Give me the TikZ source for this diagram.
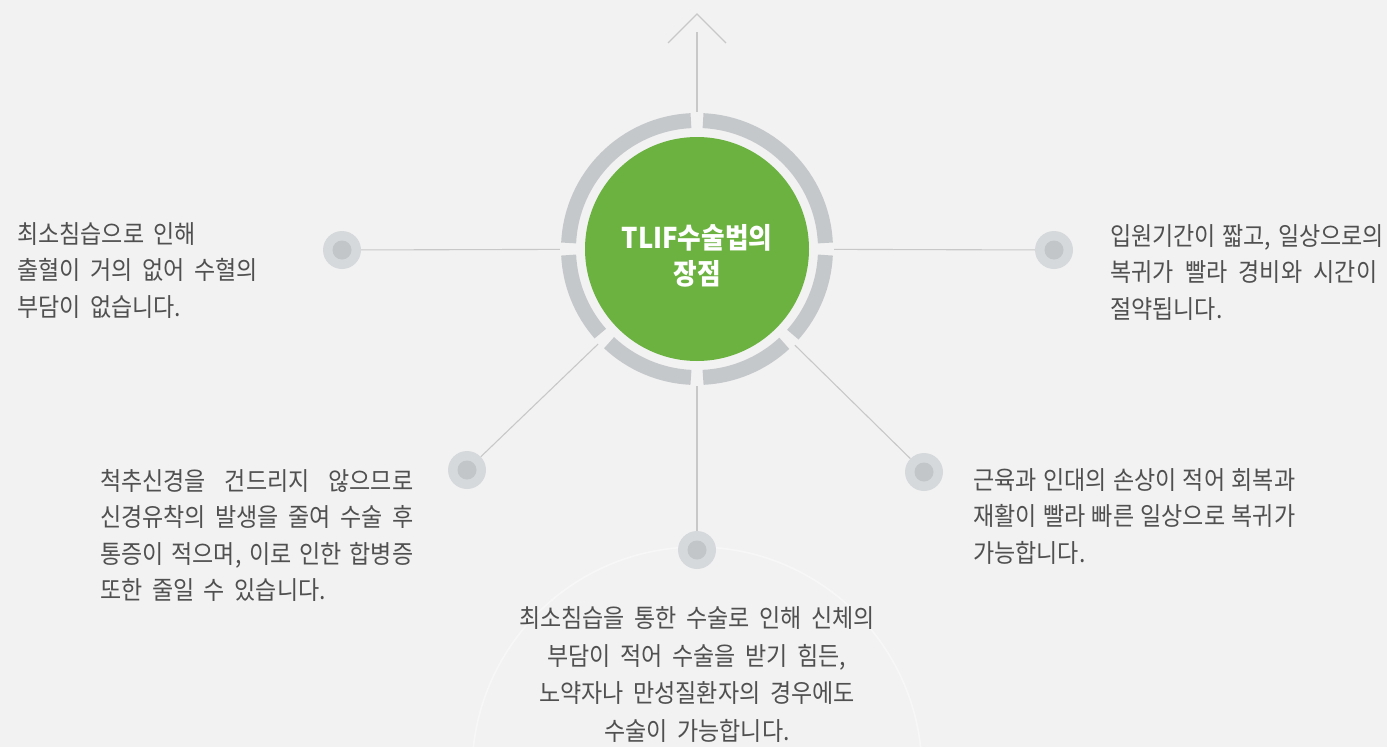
\documentclass[tikz,border=0pt]{standalone}
\usepackage{fontspec}
\newfontfamily\kr[FakeStretch=0.91, WordSpace=1.85]{Noto Sans CJK KR}
\newfontfamily\krt[FakeStretch=0.9]{Noto Sans CJK KR}
\definecolor{bgc}{HTML}{F2F2F2}
\definecolor{ringc}{HTML}{C5C8CB}
\definecolor{greenc}{HTML}{6CB240}
\definecolor{linec}{HTML}{C8C8C8}
\definecolor{dotout}{HTML}{D6D9DC}
\definecolor{dotin}{HTML}{C3C6C9}
\definecolor{txtc}{HTML}{505050}
\begin{document}
\begin{tikzpicture}[x=1pt,y=1pt,
  txt/.style={font=\kr\fontsize{25.3}{36.5}\selectfont, text=txtc, inner sep=0, align=left},
  ctxt/.style={font=\kr\fontsize{25.3}{37.5}\selectfont, text=txtc, inner sep=0, align=center},
  dotnode/.style={circle, fill=dotout, minimum size=38pt, inner sep=0},
  conn/.style={draw=linec, line width=1.1pt},
  seg/.style={draw=ringc, line width=15pt}]
\fill[bgc] (0,0) rectangle (1387,-747);
\useasboundingbox (0,0) rectangle (1387,-747);
% faint background circle
\draw[white, line width=1.5pt, opacity=0.45] (697,-772) circle (225);
% hub area and ring
\node[circle, minimum size=274pt, inner sep=0] (hub) at (697,-249) {};
\foreach \a/\b in {2.7/87.3, 92.7/177.3, 182.7/221.2, 226.8/267.3, 272.7/312.8, 318.2/357.3}
  \draw[seg] (697,-249) ++(\a:128.5) arc (\a:\b:128.5);
\node[circle, fill=greenc, minimum size=224pt, inner sep=0] (core) at (697,-249) {};
\node[text=white, font=\krt\bfseries\fontsize{28.5}{35.5}\selectfont, align=center, inner sep=0]
      (title) at (697,-256) {TLIF수술법의\\장점};
% dots
\node[dotnode] (dL) at (342,-250) {};
\node[dotnode] (dR) at (1054,-250) {};
\node[dotnode] (dLL) at (467,-470) {};
\node[dotnode] (dLR) at (924,-472) {};
\node[dotnode] (dB) at (697,-550) {};
\foreach \n in {dL,dR,dLL,dLR,dB}
  \fill[dotin] (\n.center) circle (9.5);
% connectors
\draw[conn] (dL) -- (hub);
\draw[conn] (dR) -- (hub);
\draw[conn] (dLL) -- (hub);
\draw[conn] (dLR) -- (hub);
\draw[conn] (dB) -- (hub);
\coordinate (astem) at (697,-32);
\coordinate (atip) at (697,-14);
\coordinate (al) at (668,-43);
\coordinate (ar) at (726,-43);
\draw[conn] (hub) -- (astem);
\draw[conn] (al) -- (atip) -- (ar);
% texts (anchor base = baseline of last line)
\node[txt, anchor=base west] (tL) at (17,-316) {최소침습으로 인해\\출혈이 거의 없어 수혈의\\부담이 없습니다.};
\node[txt, anchor=base west] (tR) at (1110,-318) {\makebox[267pt][s]{입원기간이 짧고, 일상으로의}\\\makebox[267pt][s]{복귀가 빨라 경비와 시간이}\\절약됩니다.};
\node[txt, anchor=base west] (tLL) at (100,-599.5) {\makebox[313pt][s]{척추신경을 건드리지 않으므로}\\\makebox[313pt][s]{신경유착의 발생을 줄여 수술 후}\\\makebox[313pt][s]{통증이 적으며, 이로 인한 합병증}\\또한 줄일 수 있습니다.};
\node[txt, anchor=base west] (tLR) at (973,-562) {\makebox[320pt][s]{근육과 인대의 손상이 적어 회복과}\\\makebox[320pt][s]{재활이 빨라 빠른 일상으로 복귀가}\\가능합니다.};
\node[ctxt, anchor=base] (tB) at (697,-740) {최소침습을 통한 수술로 인해 신체의\\부담이 적어 수술을 받기 힘든,\\노약자나 만성질환자의 경우에도\\수술이 가능합니다.};
\end{tikzpicture}
\end{document}
